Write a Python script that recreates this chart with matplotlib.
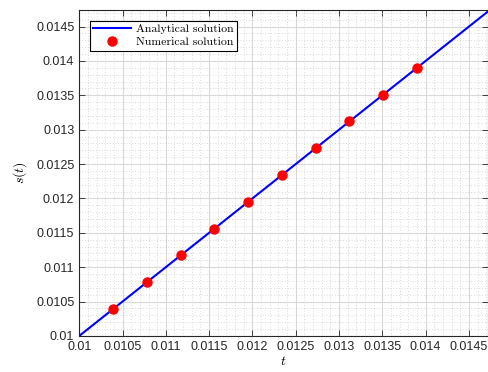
import matplotlib
matplotlib.use("Agg")
from matplotlib import pyplot as plt
from matplotlib.ticker import MultipleLocator

# analytical solution s(t) = t over the plotted interval
t_line = [0.01, 0.01472]
s_line = [0.01, 0.01472]

# numerical solution points
t_num = [0.01039, 0.01078, 0.01117, 0.01156, 0.01195,
         0.01234, 0.01273, 0.01312, 0.01351, 0.0139]
s_num = [0.01039, 0.01078, 0.01117, 0.01156, 0.01195,
         0.01234, 0.01273, 0.01312, 0.01351, 0.0139]

ticks = [0.01, 0.0105, 0.011, 0.0115, 0.012, 0.0125, 0.013, 0.0135,
         0.014, 0.0145]
tick_labels = ["0.01", "0.0105", "0.011", "0.0115", "0.012", "0.0125",
               "0.013", "0.0135", "0.014", "0.0145"]

plt.rcParams["mathtext.fontset"] = "cm"
plt.rcParams["font.family"] = "Liberation Sans"

fig = plt.figure(figsize=(4.89, 3.72), dpi=100)
ax = fig.add_axes([0.162, 0.097, 0.836, 0.876])

ax.plot(t_line, s_line, color=(0, 0, 1), lw=1.5, label="Analytical solution",
        zorder=3)
ax.plot(t_num, s_num, "o", color="red", ms=6.5, ls="none",
        label="Numerical solution", zorder=4)

ax.set_xlim(0.01, 0.01472)
ax.set_ylim(0.01, 0.01474)
ax.set_xticks(ticks)
ax.set_xticklabels(tick_labels)
ax.set_yticks(ticks)
ax.set_yticklabels(tick_labels)
ax.xaxis.set_minor_locator(MultipleLocator(0.0001))
ax.yaxis.set_minor_locator(MultipleLocator(0.0001))

ax.grid(True, which="major", color="0.85", lw=0.8, ls="-")
ax.grid(True, which="minor", color="0.72", lw=0.5, ls=(0, (1, 3)))
ax.set_axisbelow(True)

ax.tick_params(which="major", direction="in", length=4, width=0.6,
               top=True, right=True, labelsize=9, colors="0.15")
ax.tick_params(which="minor", length=0)
for sp in ax.spines.values():
    sp.set_color("0.15")
    sp.set_linewidth(0.8)

ax.set_xlabel("$t$", fontsize=10, labelpad=1)
ax.set_ylabel("$s(t)$", fontsize=10, labelpad=5)

leg = ax.legend(loc="upper left", prop={"family": "cmr10", "size": 8.5},
                fancybox=False, edgecolor="black", framealpha=1,
                handlelength=3.2, borderpad=0.3, labelspacing=0.2,
                handletextpad=0.4, borderaxespad=0.9)
leg.get_frame().set_linewidth(0.8)

fig.savefig("out.png", dpi=100)
